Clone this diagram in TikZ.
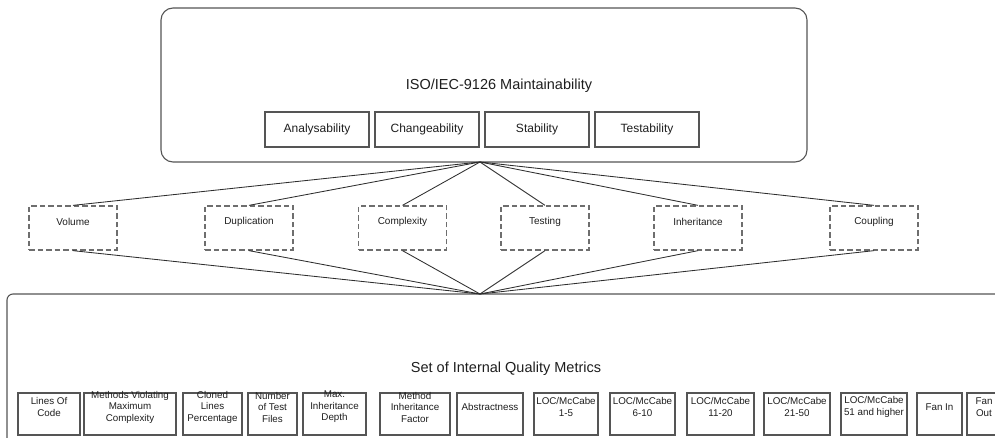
\documentclass[tikz,border=0pt]{standalone}
\usepackage{fontspec}
\setmainfont{Liberation Sans}
\definecolor{boxgray}{HTML}{555555}
\definecolor{dashgray}{HTML}{6E6E6E}
\definecolor{linegray}{HTML}{2E2E2E}
\definecolor{txt}{HTML}{1E1E1E}
\begin{document}
\begin{tikzpicture}[x=1pt,y=-1pt,
  bigbox/.style={draw=boxgray, line width=1.1pt, rounded corners=12pt, inner sep=0pt},
  lowbox/.style={draw=boxgray, line width=1.1pt, rounded corners=6pt, inner sep=0pt},
  inbox/.style={draw=boxgray, line width=1.1pt, inner sep=0pt, minimum width=104pt, minimum height=35pt, text=txt, font=\fontsize{12}{14}\selectfont},
  dbox/.style={draw=dashgray, line width=1.3pt, dash pattern=on 5.5pt off 3pt, inner sep=0pt, minimum width=88pt, minimum height=44pt},
  dlbl/.style={text=txt, font=\fontsize{10}{12}\selectfont, yshift=6pt},
  mbox/.style={draw=boxgray, line width=1.1pt, inner sep=0pt, minimum height=42pt},
  mlbl/.style={text=txt, align=center, font=\fontsize{9.8}{11.5}\selectfont, yshift=7pt},
  ttl/.style={text=txt, font=\fontsize{14.5}{17}\selectfont},
  conn/.style={draw=linegray, line width=0.85pt}]
\useasboundingbox (0,0) rectangle (995,438);
\clip (0,0) rectangle (995,438);

% top box
\node[bigbox, minimum width=646pt, minimum height=154pt] (iso) at (484,85) {};
\node[ttl] (isot) at (499,86) {ISO/IEC-9126 Maintainability};
\node[inbox] (ana) at (317,129.5) {Analysability};
\node[inbox] (chg) at (427,129.5) {Changeability};
\node[inbox] (stb) at (537,129.5) {Stability};
\node[inbox] (tst) at (647,129.5) {Testability};
\coordinate (apexT) at (480,162);

% bottom box
\node[lowbox, minimum width=1010pt, minimum height=170pt] (set) at (512,379) {};
\node[ttl] (sett) at (506,369) {Set of Internal Quality Metrics};
\coordinate (apexB) at (480,294);

% dashed boxes
\node[dbox, label={[dlbl]center:Volume}] (vol) at (73,228) {};
\node[dbox, label={[dlbl]center:Duplication}] (dup) at (249,228) {};
\node[dbox, label={[dlbl]center:Complexity}] (cpx) at (402.5,228) {};
\node[dbox, label={[dlbl]center:Testing}] (tsg) at (545,228) {};
\node[dbox, label={[dlbl]center:Inheritance}] (inh) at (698,228) {};
\node[dbox, label={[dlbl]center:Coupling}] (cpl) at (874,228) {};

\foreach \n in {vol,dup,cpx,tsg,inh,cpl}{
  \draw[conn] (apexT) -- (\n.north);
  \draw[conn] (\n.south) -- (apexB);
}

% metric boxes
\node[mbox, minimum width=62pt, label={[mlbl]center:{Lines Of\\Code}}] (m1) at (49,414) {};
\node[mbox, minimum width=92pt, label={[mlbl]center:{Methods Violating\\Maximum\\Complexity}}] (m2) at (130,414) {};
\node[mbox, minimum width=59pt, label={[mlbl]center:{Cloned\\Lines\\Percentage}}] (m3) at (212.5,414) {};
\node[mbox, minimum width=49pt, label={[mlbl]center:{Number\\of Test\\Files}}] (m4) at (272.5,414) {};
\node[mbox, minimum width=63pt, label={[mlbl]center:{Max.\\Inheritance\\Depth}}] (m5) at (334.5,414) {};
\node[mbox, minimum width=70pt, label={[mlbl]center:{Method\\Inheritance\\Factor}}] (m6) at (415,414) {};
\node[mbox, minimum width=66pt, label={[mlbl]center:{Abstractness}}] (m7) at (490,414) {};
\node[mbox, minimum width=64pt, label={[mlbl]center:{LOC/McCabe\\1-5}}] (m8) at (566,414) {};
\node[mbox, minimum width=65pt, label={[mlbl]center:{LOC/McCabe\\6-10}}] (m9) at (642.5,414) {};
\node[mbox, minimum width=67pt, label={[mlbl]center:{LOC/McCabe\\11-20}}] (m10) at (720.5,414) {};
\node[mbox, minimum width=66pt, label={[mlbl]center:{LOC/McCabe\\21-50}}] (m11) at (797,414) {};
\node[mbox, minimum width=66pt, label={[mlbl]center:{LOC/McCabe\\51 and higher}}] (m12) at (874,414) {};
\node[mbox, minimum width=45pt, label={[mlbl]center:{Fan In}}] (m13) at (939.5,414) {};
\node[mbox, minimum width=34pt, label={[mlbl]center:{Fan\\Out}}] (m14) at (984,414) {};
\end{tikzpicture}
\end{document}
